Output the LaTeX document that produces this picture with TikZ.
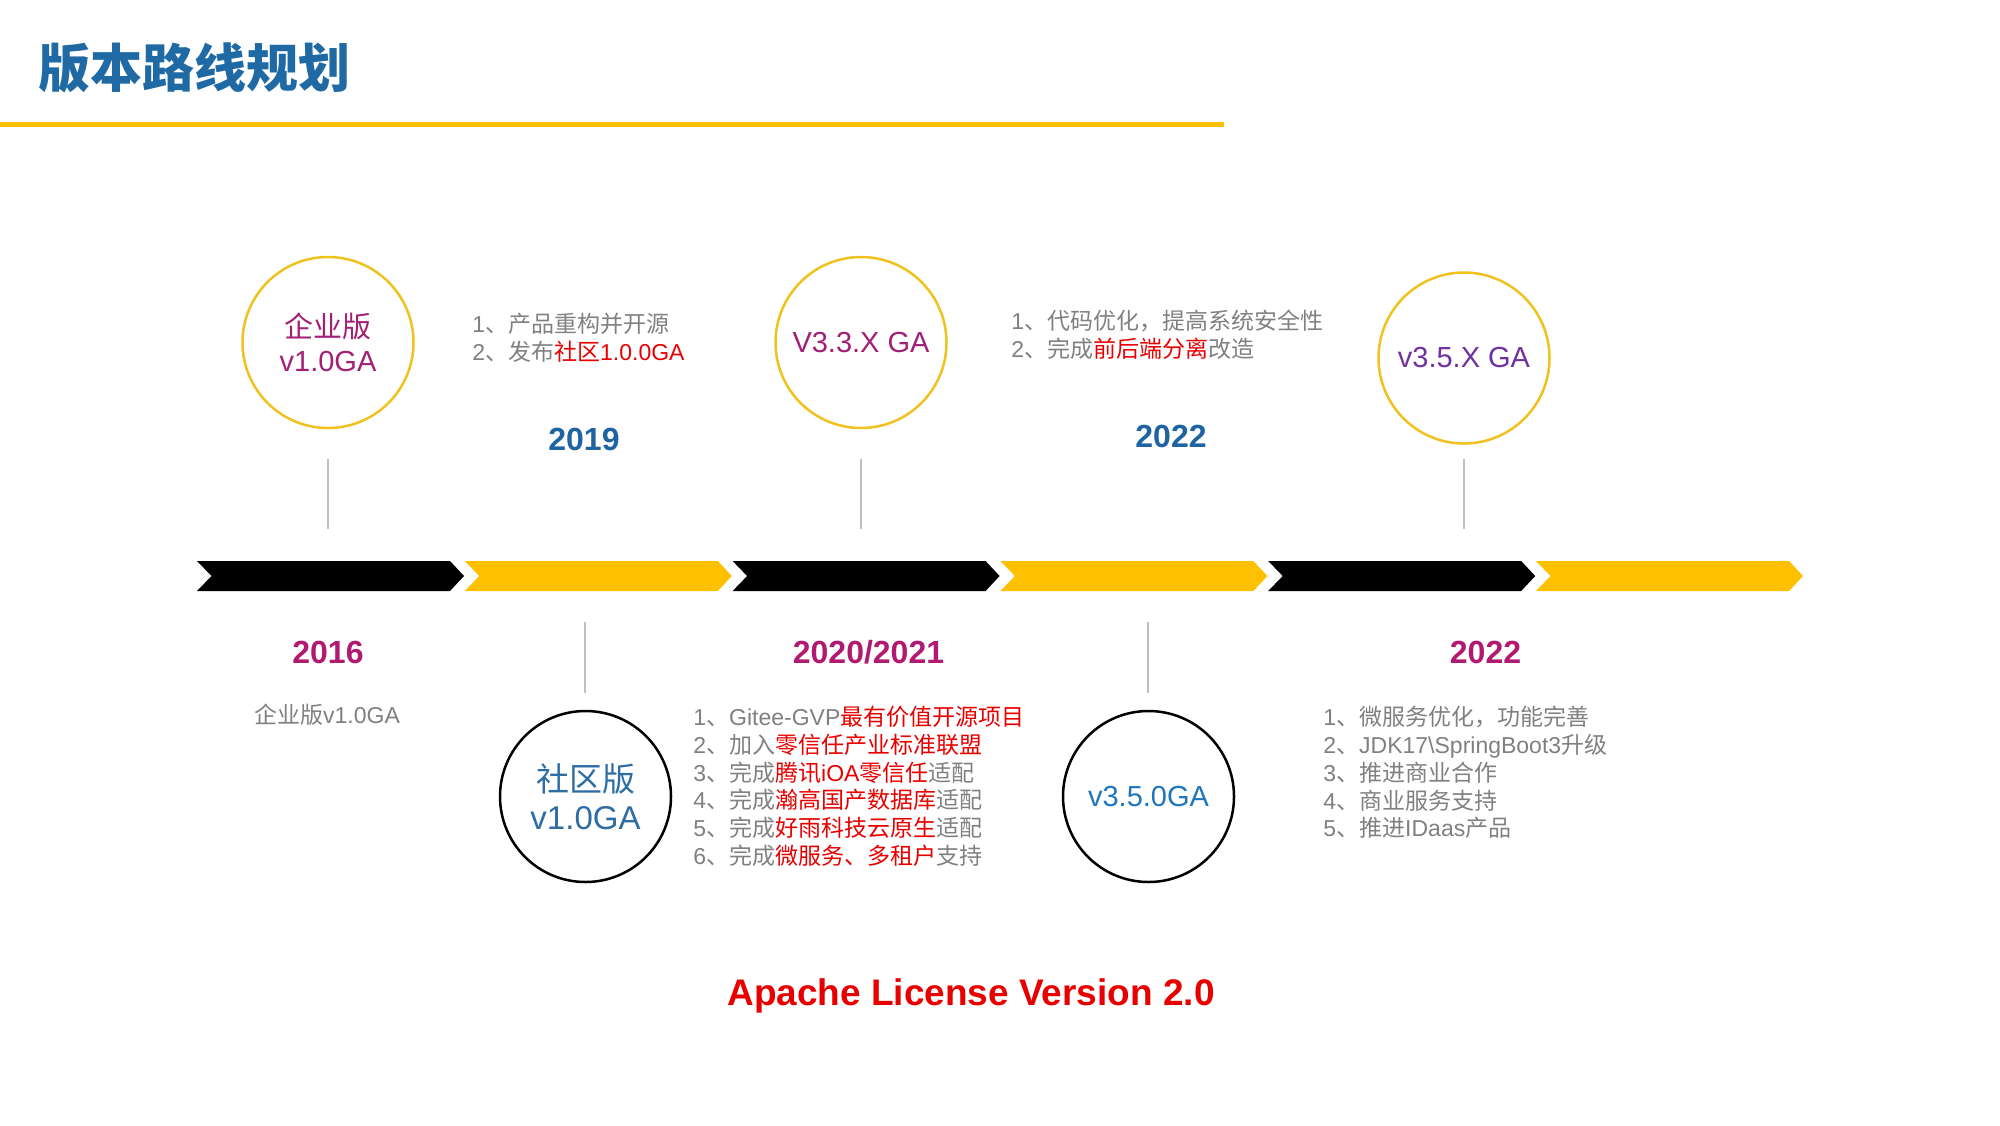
\documentclass[tikz,border=0pt]{standalone}
\usepackage{fontspec}
\setmainfont{Liberation Sans}
\newfontfamily\zh{Noto Sans CJK SC}
\newcommand\zz[1]{{\zh #1}}
\definecolor{titleblue}{RGB}{31,106,165}
\definecolor{yearblue}{RGB}{31,100,160}
\definecolor{yearmag}{RGB}{176,26,112}
\definecolor{circmag}{RGB}{163,31,117}
\definecolor{circpurple}{RGB}{112,48,160}
\definecolor{commblue}{RGB}{46,109,164}
\definecolor{relblue}{RGB}{30,118,188}
\definecolor{textgray}{RGB}{128,128,128}
\definecolor{hlred}{RGB}{232,0,0}
\definecolor{gold}{RGB}{255,192,0}
\definecolor{ringgold}{RGB}{240,194,30}
\definecolor{tickgray}{RGB}{192,192,192}
\newcommand\hl[1]{\textcolor{hlred}{#1}}
\tikzset{
  ring/.style={circle, draw, line width=1.25pt, minimum size=85.5pt, inner sep=0pt, align=center},
  upring/.style={ring, draw=ringgold},
  lowring/.style={ring, draw=black},
  tick/.style={draw=tickgray, line width=1pt},
  year/.style={font=\bfseries\fontsize{16}{19}\selectfont, inner sep=0pt},
  notes/.style={font=\fontsize{11.5}{13.85}\selectfont, text=textgray, align=left, anchor=north west, inner sep=0pt},
}
\begin{document}
\begin{tikzpicture}[x=0.5pt, y=-0.5pt]
\useasboundingbox (0,0) rectangle (2000,1125);

% heading and underline
\node[anchor=west, inner sep=0pt, text=titleblue, font=\zh\bfseries\fontsize{26}{30}\selectfont] (title) at (38,68) {版本路线规划};
\draw[gold, line width=2.5pt] (0,124) -- (1224,124);

% timeline of chevrons
\foreach \i in {0,...,5} {
  \pgfmathsetmacro{\s}{197+\i*267.8}
  \pgfmathtruncatemacro{\odd}{mod(\i,2)}
  \ifnum\odd=0 \def\fillc{black}\else \def\fillc{gold}\fi
  \fill[\fillc] (\s,561) -- ++(253,0) -- ++(14,15) -- ++(-14,15) -- ++(-253,0) -- ++(14.5,-15) -- cycle;
}

% upper milestones
\node[upring, text=circmag, font=\fontsize{14.5}{17}\selectfont] (ent) at (328,342.5) {\zz{企业版}\\v1.0GA};
\node[upring, text=circmag, font=\fontsize{14.5}{17}\selectfont] (v33) at (861,342.5) {V3.3.X GA};
\node[upring, text=circpurple, font=\fontsize{14.5}{17}\selectfont] (v35x) at (1464,358) {v3.5.X GA};

% lower milestones
\node[lowring, text=commblue, font=\fontsize{16.5}{19}\selectfont] (comm) at (585.5,796.5) {\zz{社区版}\\v1.0GA};
\node[lowring, text=relblue, font=\fontsize{14.5}{17}\selectfont] (v350) at (1148.5,796.5) {v3.5.0GA};

% tick marks between milestones and the timeline
\coordinate (t1a) at (328,459);  \coordinate (t1b) at (328,529);
\coordinate (t2a) at (861,459);  \coordinate (t2b) at (861,529);
\coordinate (t3a) at (1464,459); \coordinate (t3b) at (1464,529);
\coordinate (b1a) at (585,622);  \coordinate (b1b) at (585,693);
\coordinate (b2a) at (1148,622); \coordinate (b2b) at (1148,693);
\draw[tick] (t1a) -- (t1b);
\draw[tick] (t2a) -- (t2b);
\draw[tick] (t3a) -- (t3b);
\draw[tick] (b1a) -- (b1b);
\draw[tick] (b2a) -- (b2b);

% years
\node[year, text=yearblue] (y2019) at (584,439) {2019};
\node[year, text=yearblue] (y2022a) at (1171,436.5) {2022};
\node[year, text=yearmag] (y2016) at (328,652) {2016};
\node[year, text=yearmag] (y2020) at (868.5,652) {2020/2021};
\node[year, text=yearmag] (y2022b) at (1485.5,652) {2022};

% release notes
\node[notes] (n2019) at (472,313) {1\zz{、产品重构并开源}\\2\zz{、发布}\hl{\zz{社区}1.0.0GA}};
\node[notes] (n2022a) at (1011,310) {1\zz{、代码优化，提高系统安全性}\\2\zz{、完成}\hl{\zz{前后端分离}}\zz{改造}};
\node[font=\fontsize{11.5}{13.85}\selectfont, text=textgray, inner sep=0pt] (n2016) at (327,715) {\zz{企业版}v1.0GA};
\node[notes] (n2020) at (693,706) {1\zz{、}Gitee-GVP\hl{\zz{最有价值开源项目}}\\
2\zz{、加入}\hl{\zz{零信任产业标准联盟}}\\
3\zz{、完成}\hl{\zz{腾讯}iOA\zz{零信任}}\zz{适配}\\
4\zz{、完成}\hl{\zz{瀚高国产数据库}}\zz{适配}\\
5\zz{、完成}\hl{\zz{好雨科技云原生}}\zz{适配}\\
6\zz{、完成}\hl{\zz{微服务、多租户}}\zz{支持}};
\node[notes] (n2022b) at (1323,706) {1\zz{、微服务优化，功能完善}\\
2\zz{、}JDK17\textbackslash SpringBoot3\zz{升级}\\
3\zz{、推进商业合作}\\
4\zz{、商业服务支持}\\
5\zz{、推进}IDaas\zz{产品}};

% license
\node[text=hlred, font=\bfseries\fontsize{18.5}{22}\selectfont, inner sep=0pt] (lic) at (971,996) {Apache License Version 2.0};
\end{tikzpicture}
\end{document}
